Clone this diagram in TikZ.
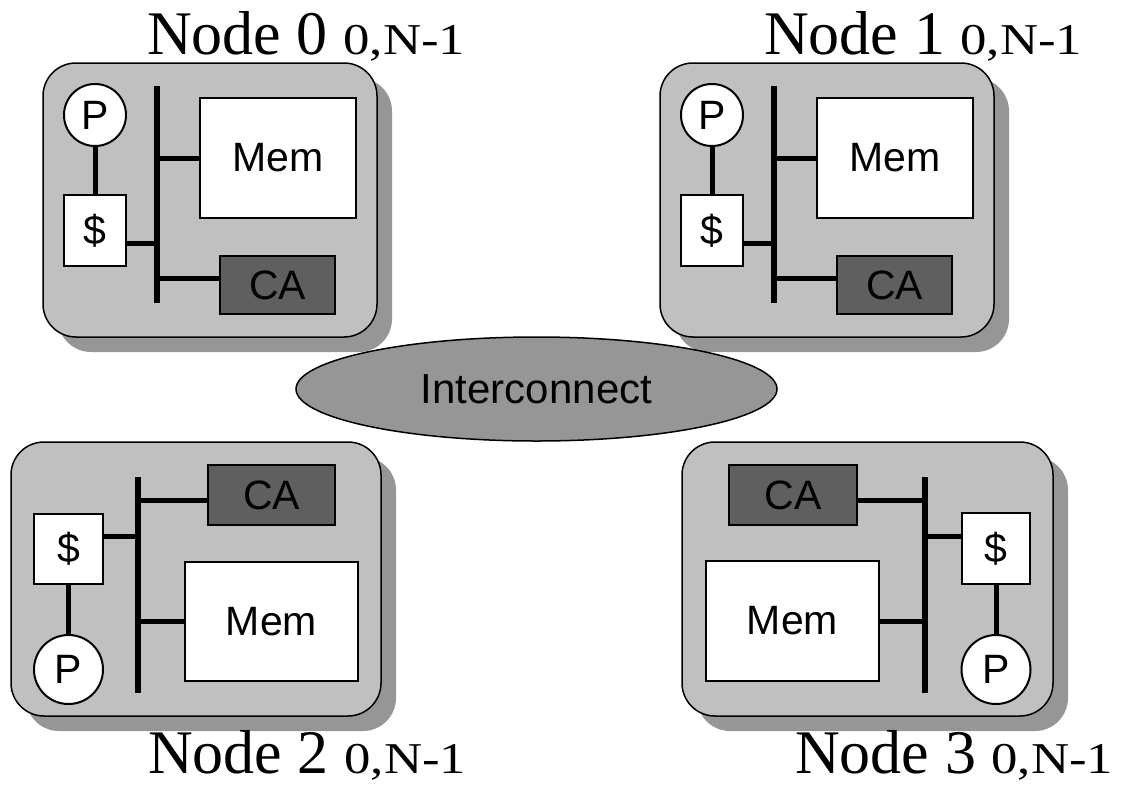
\documentclass[tikz,border=0pt]{standalone}
\usepackage{fontspec}
\setmainfont{Liberation Serif}
\setsansfont{Liberation Sans}
\usepackage{graphicx}
\usetikzlibrary{shapes.geometric,shadows}

\definecolor{boardgray}{RGB}{192,192,192}
\definecolor{shadegray}{RGB}{150,150,150}
\definecolor{cagray}{RGB}{95,95,95}
\newcommand{\rng}{\scalebox{1.2}[1]{\fontsize{44}{44}\selectfont 0,N-1}}

\tikzset{
  board/.style={draw,line width=1.5pt,fill=boardgray,rounded corners=33pt,minimum height=274pt,
    drop shadow={shadow xshift=15pt,shadow yshift=-15pt,fill=shadegray,opacity=1}},
  unit/.style={draw,line width=2pt,inner sep=0pt,font=\sffamily\fontsize{41}{41}\selectfont},
  proc/.style={unit,circle,fill=white},
  cache/.style={unit,fill=white},
  mem/.style={unit,fill=white},
  ca/.style={unit,fill=cagray},
  net/.style={ellipse,draw,line width=1.5pt,fill=shadegray,inner sep=0pt,
    minimum width=481pt,minimum height=104pt,font=\sffamily\fontsize{42}{42}\selectfont},
  bus/.style={line width=5.5pt},
  wire/.style={line width=5pt},
  title/.style={anchor=base west,inner sep=0pt,font=\fontsize{62}{62}\selectfont},
}

\begin{document}
\begin{tikzpicture}[x=1pt,y=-1pt]
  \useasboundingbox (0,0) rectangle (1122,785);

  % node 0
  \node[board,minimum width=334pt] (board0) at (210,200) {};
  \node[proc,minimum size=62pt] (P0) at (95,115) {P};
  \node[cache,minimum width=62pt,minimum height=71pt] (S0) at (95,230.5) {\$};
  \node[mem,minimum width=156pt,minimum height=120pt] (M0) at (278,158) {Mem};
  \node[ca,minimum width=115pt,minimum height=58pt] (CA0) at (277.5,285) {CA};
  \coordinate (B0t) at (157,86);
  \coordinate (B0b) at (157,303);
  \draw[bus] (B0t) -- (B0b);
  \draw[wire] (P0) -- (S0);
  \draw[wire] (S0.-22) -- (S0.-22 -| B0t);
  \draw[wire] (M0) -- (M0 -| B0t);
  \draw[wire] (CA0.174) -- (CA0.174 -| B0t);
  \node[title] (T0) at (147,54) {Node 0 \rng};

  % node 1
  \node[board,minimum width=334pt] (board1) at (827,200) {};
  \node[proc,minimum size=62pt] (P1) at (712,115) {P};
  \node[cache,minimum width=62pt,minimum height=71pt] (S1) at (712,230.5) {\$};
  \node[mem,minimum width=156pt,minimum height=120pt] (M1) at (895,158) {Mem};
  \node[ca,minimum width=115pt,minimum height=58pt] (CA1) at (894.5,285) {CA};
  \coordinate (B1t) at (774,86);
  \coordinate (B1b) at (774,303);
  \draw[bus] (B1t) -- (B1b);
  \draw[wire] (P1) -- (S1);
  \draw[wire] (S1.-22) -- (S1.-22 -| B1t);
  \draw[wire] (M1) -- (M1 -| B1t);
  \draw[wire] (CA1.174) -- (CA1.174 -| B1t);
  \node[title] (T1) at (764,54) {Node 1 \rng};

  % node 2
  \node[board,minimum width=370pt] (board2) at (196,579) {};
  \node[cache,minimum width=69pt,minimum height=70pt] (S2) at (68.5,549) {\$};
  \node[proc,minimum size=69pt] (P2) at (68.5,669.5) {P};
  \node[ca,minimum width=127pt,minimum height=60pt] (CA2) at (271.5,495) {CA};
  \node[mem,minimum width=173pt,minimum height=119pt] (M2) at (271.5,621.5) {Mem};
  \coordinate (B2t) at (138,477);
  \coordinate (B2b) at (138,693);
  \draw[bus] (B2t) -- (B2b);
  \draw[wire] (S2) -- (P2);
  \draw[wire] (S2.19) -- (S2.19 -| B2t);
  \draw[wire] (CA2.185) -- (CA2.185 -| B2t);
  \draw[wire] (M2) -- (M2 -| B2t);
  \node[title] (T2) at (148,773) {Node 2 \rng};

  % node 3
  \node[board,minimum width=371pt] (board3) at (867.5,579) {};
  \node[ca,minimum width=128pt,minimum height=60pt] (CA3) at (793,495) {CA};
  \node[mem,minimum width=173pt,minimum height=120pt] (M3) at (792.5,621) {Mem};
  \node[cache,minimum width=68pt,minimum height=71pt] (S3) at (996,548.5) {\$};
  \node[proc,minimum size=69pt] (P3) at (996,669.5) {P};
  \coordinate (B3t) at (925,477);
  \coordinate (B3b) at (925,693);
  \draw[bus] (B3t) -- (B3b);
  \draw[wire] (S3) -- (P3);
  \draw[wire] (S3.161) -- (S3.161 -| B3t);
  \draw[wire] (CA3.-5) -- (CA3.-5 -| B3t);
  \draw[wire] (M3) -- (M3 -| B3t);
  \node[title] (T3) at (795,773) {Node 3 \rng};

  \node[net] (net) at (536.5,389) {Interconnect};
\end{tikzpicture}
\end{document}
